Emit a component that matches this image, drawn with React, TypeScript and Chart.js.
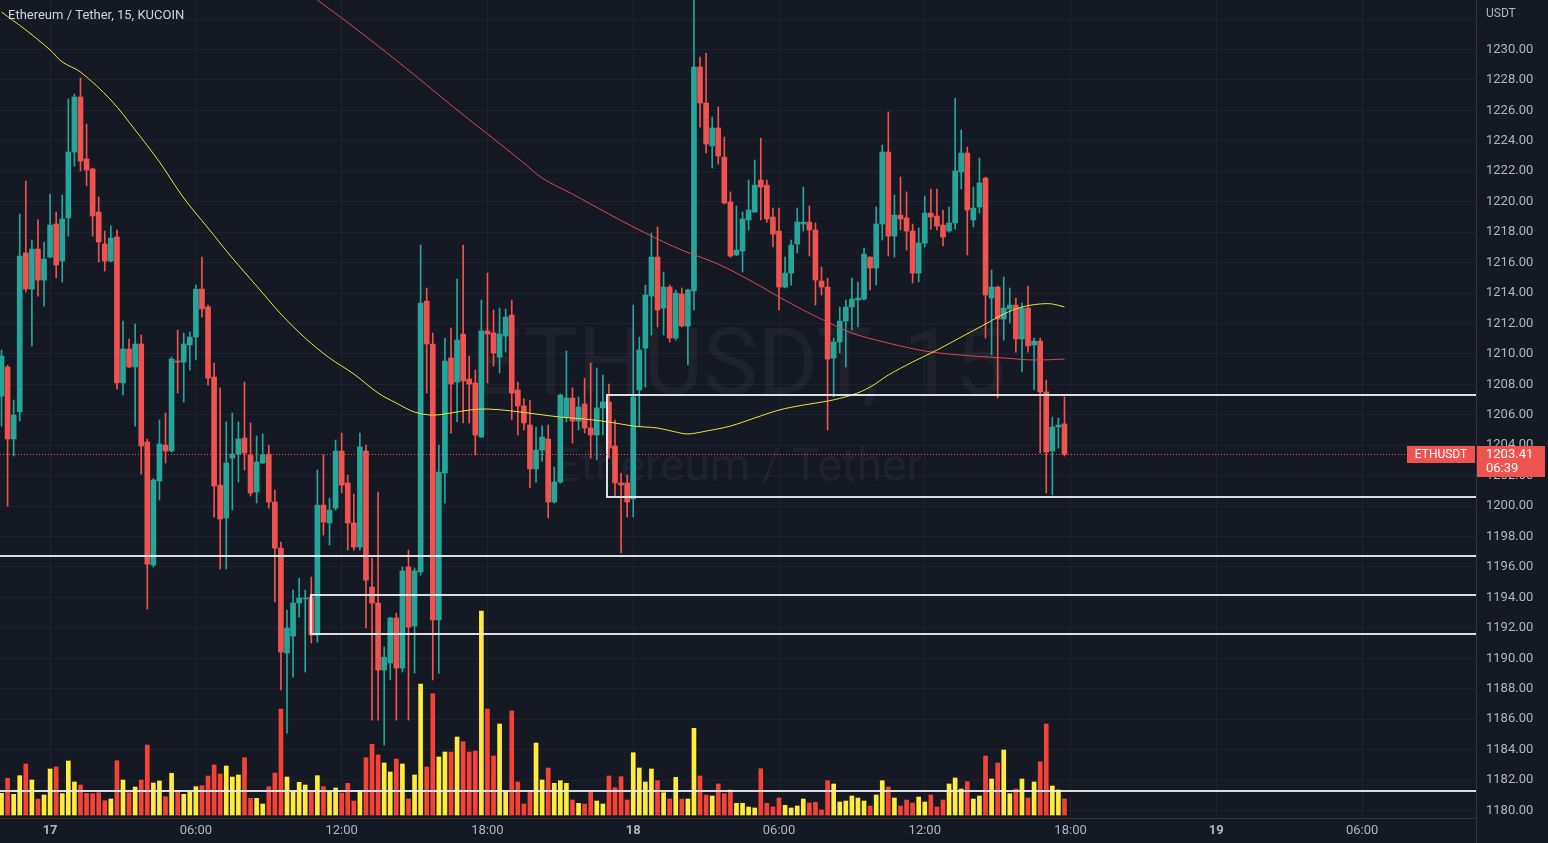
import React, { useEffect, useRef } from 'react';
import { Chart, registerables } from 'chart.js';

Chart.register(...registerables);

// ---- Data (15-minute candles, ETH/USDT, KuCoin) ----
const opens = [1207.23,1209.14,1204.41,1206.18,1216.63,1214.26,1216.89,1214.85,1216.36,1218.53,
1216.10,1218.93,1223.26,1226.88,1222.80,1222.15,1219.32,1217.22,1216.10,1217.68,
1208.09,1210.32,1209.14,1210.65,1204.21,1196.13,1201.65,1204.01,1203.62,1209.53,
1209.46,1210.58,1211.11,1214.26,1213.08,1208.48,1201.38,1199.22,1203.16,1203.42,
1204.47,1203.36,1200.93,1202.83,1203.42,1200.27,1197.24,1190.35,1191.46,1193.63,
1193.90,1194.03,1191.53,1200.07,1198.89,1199.87,1203.62,1201.52,1198.89,1197.31,
1203.62,1194.68,1193.63,1189.23,1189.69,1192.65,1189.36,1196.00,1192.12,1195.67,
1213.47,1210.65,1192.52,1202.17,1209.73,1208.15,1211.30,1208.35,1208.09,1204.54,
1211.50,1211.37,1209.79,1211.17,1212.55,1207.63,1206.58,1205.33,1202.44,1203.68,
1204.41,1200.27,1201.58,1205.85,1207.10,1205.59,1206.71,1205.13,1204.67,1206.45,
1206.84,1203.95,1201.52,1201.52,1200.47,1207.63,1210.38,1213.80,1216.36,1213.01,
1214.39,1211.04,1213.93,1211.83,1214.13,1228.85,1226.48,1223.66,1224.84,1222.93,
1219.98,1216.50,1216.76,1218.80,1219.32,1221.42,1221.09,1218.99,1218.07,1214.39,
1215.31,1217.22,1218.53,1218.66,1218.14,1214.79,1214.39,1209.73,1210.78,1212.16,
1213.08,1213.54,1213.60,1216.36,1215.64,1218.53,1223.26,1217.74,1219.12,1218.93,
1218.07,1215.31,1217.28,1219.25,1219.06,1218.47,1218.07,1218.60,1221.95,1223.20,
1218.80,1219.65,1221.55,1213.67,1214.39,1212.29,1212.95,1213.21,1210.98,1213.01,
1210.58,1210.84,1207.50,1203.62,1205.20,1205.40];

const highs = [1210.25,1209.27,1206.97,1219.19,1221.36,1217.48,1218.80,1217.35,1220.50,1219.32,
1220.44,1226.75,1227.07,1228.13,1225.10,1222.20,1220.31,1218.07,1218.40,1218.14,
1212.16,1210.98,1211.96,1211.24,1204.40,1201.80,1205.66,1206.12,1209.79,1211.57,
1211.37,1211.44,1214.52,1216.36,1213.21,1209.40,1207.76,1205.53,1206.12,1205.53,
1208.15,1205.46,1204.60,1204.74,1204.01,1201.06,1197.64,1193.17,1194.48,1195.27,
1194.48,1195.34,1202.37,1203.36,1200.53,1204.34,1204.80,1202.04,1200.79,1204.80,
1204.01,1196.59,1200.93,1190.74,1192.70,1192.97,1196.00,1197.11,1195.93,1217.15,
1214.33,1211.37,1204.01,1211.04,1211.70,1214.92,1217.15,1209.86,1208.94,1213.54,
1215.31,1212.88,1213.01,1212.95,1213.54,1208.15,1207.04,1206.97,1205.20,1205.27,
1205.33,1202.57,1207.36,1210.19,1207.76,1207.17,1208.41,1209.40,1209.07,1208.61,
1208.02,1205.66,1202.17,1202.04,1213.21,1211.11,1214.52,1217.94,1218.34,1215.38,
1214.52,1214.20,1214.33,1214.26,1233.60,1229.50,1229.77,1225.56,1226.22,1224.25,
1220.64,1219.72,1219.32,1221.42,1222.74,1224.18,1221.42,1219.58,1219.58,1216.36,
1217.48,1219.58,1220.96,1219.72,1218.60,1215.71,1214.98,1211.04,1213.08,1213.54,
1214.98,1214.72,1216.96,1216.40,1219.65,1223.72,1225.89,1220.44,1221.62,1220.64,
1218.53,1218.27,1220.37,1220.83,1220.83,1219.45,1219.65,1226.81,1224.71,1223.59,
1220.96,1222.87,1221.62,1215.51,1214.45,1215.05,1214.33,1213.67,1213.34,1214.46,
1211.04,1211.04,1208.28,1205.85,1205.79,1207.17];

const lows = [1205.26,1200.00,1203.29,1205.59,1214.07,1210.52,1213.80,1213.14,1216.30,1214.99,
1214.72,1217.74,1222.34,1222.02,1221.03,1217.74,1216.04,1215.44,1216.05,1207.69,
1207.30,1209.10,1205.26,1202.11,1193.24,1195.99,1200.40,1202.83,1203.55,1207.43,
1206.84,1208.94,1209.60,1212.42,1207.95,1199.28,1195.87,1195.87,1199.74,1201.58,
1202.37,1200.66,1200.20,1202.80,1199.87,1193.70,1187.92,1185.09,1188.77,1192.71,
1189.10,1191.00,1191.07,1198.10,1197.44,1199.74,1200.86,1197.11,1197.11,1197.11,
1191.99,1185.94,1185.94,1184.30,1188.58,1185.94,1189.10,1185.94,1189.03,1195.47,
1207.43,1188.58,1189.03,1200.20,1204.80,1205.53,1205.46,1205.46,1203.36,1204.50,
1208.09,1209.20,1208.74,1210.12,1205.66,1204.67,1205.00,1201.19,1201.58,1202.96,
1199.22,1200.20,1201.52,1205.53,1204.14,1205.00,1204.80,1203.16,1203.03,1204.67,
1203.16,1200.60,1196.92,1199.28,1199.28,1205.20,1207.82,1211.24,1211.77,1211.24,
1210.78,1210.91,1211.77,1209.27,1212.88,1224.90,1223.20,1222.21,1222.47,1219.85,
1216.36,1216.45,1215.38,1218.14,1219.30,1218.80,1218.66,1217.02,1212.88,1214.33,
1214.52,1216.63,1218.07,1216.43,1213.21,1213.87,1205.00,1207.17,1210.06,1209.14,
1211.57,1211.77,1213.55,1214.20,1214.52,1217.48,1216.43,1216.36,1218.14,1216.82,
1214.66,1214.72,1217.02,1218.20,1218.14,1217.09,1218.00,1218.20,1220.83,1216.50,
1218.34,1219.25,1211.04,1209.93,1207.10,1210.91,1212.03,1210.12,1208.81,1210.12,
1207.63,1203.49,1200.86,1200.73,1203.81,1203.29];

const closes = [1209.86,1204.41,1205.98,1216.43,1214.26,1216.89,1214.85,1216.23,1218.47,1215.84,
1218.86,1223.26,1226.88,1222.67,1222.08,1219.06,1217.35,1216.10,1217.61,1208.09,
1210.32,1209.14,1210.65,1203.95,1196.19,1201.71,1204.08,1203.62,1209.66,1209.46,
1210.65,1211.11,1214.26,1212.95,1208.41,1201.32,1199.15,1202.83,1203.42,1204.41,
1203.49,1200.86,1202.90,1203.36,1200.27,1197.24,1190.41,1191.99,1193.63,1193.96,
1193.96,1191.53,1200.07,1198.95,1199.74,1203.62,1201.38,1198.89,1197.31,1203.88,
1195.14,1193.63,1189.23,1190.08,1192.65,1189.36,1195.74,1192.05,1195.74,1213.34,
1210.65,1192.52,1202.24,1209.53,1208.02,1210.91,1208.22,1208.02,1204.67,1211.50,
1211.30,1210.06,1211.30,1212.42,1207.43,1206.58,1205.46,1202.44,1203.68,1204.54,
1200.27,1201.58,1207.30,1207.10,1205.59,1206.51,1205.13,1204.67,1206.45,1206.84,
1203.81,1201.52,1201.38,1200.27,1207.17,1210.25,1213.87,1216.36,1212.88,1214.39,
1211.04,1214.00,1211.83,1214.20,1228.85,1226.48,1223.79,1224.84,1223.00,1219.91,
1216.43,1216.82,1218.86,1219.45,1221.09,1220.96,1218.86,1217.87,1214.39,1215.31,
1217.15,1218.66,1218.66,1218.14,1214.85,1214.39,1209.66,1210.78,1212.16,1213.08,
1213.60,1213.67,1216.56,1215.64,1218.53,1223.26,1217.74,1219.12,1218.86,1218.07,
1215.31,1217.28,1219.25,1218.99,1218.40,1217.68,1218.60,1222.02,1223.20,1219.45,
1219.58,1221.23,1213.87,1214.39,1212.29,1213.01,1213.21,1210.98,1213.01,1210.52,
1210.84,1207.50,1203.55,1205.20,1205.33,1203.41];

const volumes = [217,367,207,393,510,350,160,200,460,480,
213,540,330,300,217,213,223,143,160,543,
350,223,280,350,700,320,340,183,417,247,
207,233,283,293,390,500,410,490,380,400,
573,167,167,110,283,420,1060,380,233,327,
300,233,393,283,233,270,220,317,140,247,
573,707,600,520,430,560,510,160,400,1310,
480,1213,580,630,630,780,733,630,640,2040,
1060,590,910,233,1040,330,110,247,720,350,
470,317,343,317,150,117,110,227,140,110,
390,273,383,150,623,470,330,460,343,223,
160,377,160,160,867,390,200,190,310,213,
250,117,117,80,70,463,117,80,170,97,
70,90,160,120,127,50,343,310,130,140,
190,170,140,90,200,343,280,170,90,150,
120,180,130,200,80,150,310,370,260,333,
160,190,590,360,520,650,213,260,360,170,
330,533,910,290,250,160];

// Moving averages (candle index, value)
const fastMaIndex = [0,4,8,10,13,18,22,26,30,34,38,42,46,50,54,58,62,65,68,71,74,77,80,84,88,92,96,100,104,108,111,113,116,120,124,128,132,136,140,143,146,150,154,158,162,165,168,171,173,175];
const fastMaValues = [1232.46,1231.28,1229.97,1229.18,1228.52,1226.68,1224.71,1222.61,1220.24,1218.27,1216.30,1214.46,1212.62,1211.04,1209.73,1208.68,1207.43,1206.77,1206.18,1205.98,1206.12,1206.31,1206.38,1206.25,1206.05,1205.85,1205.72,1205.53,1205.26,1205.13,1204.87,1204.74,1204.93,1205.26,1205.79,1206.31,1206.64,1206.90,1207.30,1207.82,1208.61,1209.47,1210.25,1211.11,1211.96,1212.62,1213.08,1213.28,1213.28,1213.08];
const slowMaIndex = [51,52,56,62,68,74,80,86,89,94,100,106,112,118,124,128,132,136,140,144,148,152,156,160,165,170,175];
const slowMaValues = [1233.58,1233.25,1232.07,1230.23,1228.32,1226.35,1224.45,1222.54,1221.55,1220.50,1219.19,1217.94,1216.82,1215.90,1214.66,1213.74,1212.88,1212.09,1211.37,1210.91,1210.52,1210.19,1209.99,1209.86,1209.73,1209.60,1209.66];

// Axis ticks
const xTickIndexes = [8, 32, 56, 80, 104, 128, 152, 176, 200, 224];
const xTickLabels = ['17', '06:00', '12:00', '18:00', '18', '06:00', '12:00', '18:00', '19', '06:00'];
const priceTicks = [1180,1182,1184,1186,1188,1190,1192,1194,1196,1198,1200,1202,1204,1206,1208,1210,1212,1214,1216,1218,1220,1222,1224,1226,1228,1230,1232];

// Drawn zones and levels (start index, top price, bottom price)
const zoneStarts = [99.7, 51.0];
const zoneTops = [1207.30, 1194.16];
const zoneBottoms = [1200.60, 1191.59];
const levelPrices = [1196.72, 1181.28];

const titleText = 'Ethereum / Tether, 15, KUCOIN';
const watermarkTitle = 'ETHUSDT, 15';
const watermarkSubtitle = 'Ethereum / Tether';
const symbolLabel = 'ETHUSDT';
const countdownLabel = '06:39';
const currencyLabel = 'USDT';

// ---- Styles ----
const BG = '#151924';
const GRID = '#1f2330';
const TEXT = '#b2b5be';
const UP = '#26a69a';
const DOWN = '#ef5350';
const VOL_UP = '#ffeb3b';
const VOL_DOWN = '#f44336';
const FONT = 'Roboto, "Noto Sans", sans-serif';

export default function App() {
  const ref = useRef<HTMLCanvasElement | null>(null);

  useEffect(() => {
    document.body.style.margin = '0';
    const canvas = ref.current;
    if (!canvas) return;
    const idx = opens.map((_, i) => i);
    const isUp = (i: number) => closes[i] >= opens[i];

    const bgPlugin = {
      id: 'bg',
      beforeDraw(chart: any) {
        const { ctx, width, height } = chart;
        ctx.save();
        ctx.fillStyle = BG;
        ctx.fillRect(0, 0, width, height);
        ctx.restore();
      },
    };

    const watermark = {
      id: 'watermark',
      beforeDatasetsDraw(chart: any) {
        const { ctx, chartArea: a } = chart;
        const cx = (a.left + a.right) / 2;
        ctx.save();
        ctx.fillStyle = 'rgba(255,255,255,0.045)';
        ctx.textAlign = 'center';
        ctx.textBaseline = 'alphabetic';
        ctx.font = `92px ${FONT}`;
        ctx.fillText(watermarkTitle, cx, 394);
        ctx.font = `46px ${FONT}`;
        ctx.fillText(watermarkSubtitle, cx, 481);
        ctx.restore();
      },
    };

    const overlays = {
      id: 'overlays',
      afterDatasetsDraw(chart: any) {
        const { ctx, chartArea: a } = chart;
        const xs = chart.scales.x;
        const ys = chart.scales.y;
        ctx.save();
        ctx.beginPath();
        ctx.rect(a.left, a.top, a.right - a.left, a.bottom - a.top);
        ctx.clip();
        ctx.strokeStyle = 'rgba(236,238,242,0.92)';
        ctx.lineWidth = 2;
        zoneStarts.forEach((s, i) => {
          const x0 = Math.round(xs.getPixelForValue(s));
          const y0 = Math.round(ys.getPixelForValue(zoneTops[i]));
          const y1 = Math.round(ys.getPixelForValue(zoneBottoms[i]));
          ctx.strokeRect(x0, y0, a.right - x0 + 4, y1 - y0);
        });
        levelPrices.forEach((p) => {
          const yy = Math.round(ys.getPixelForValue(p));
          ctx.beginPath();
          ctx.moveTo(a.left, yy);
          ctx.lineTo(a.right, yy);
          ctx.stroke();
        });
        // last price dotted line
        const last = closes[closes.length - 1];
        const yp = Math.round(ys.getPixelForValue(last)) + 0.5;
        ctx.strokeStyle = DOWN;
        ctx.lineWidth = 1;
        ctx.setLineDash([1, 2]);
        ctx.beginPath();
        ctx.moveTo(a.left, yp);
        ctx.lineTo(a.right, yp);
        ctx.stroke();
        ctx.restore();
      },
      afterDraw(chart: any) {
        const { ctx, chartArea: a, width } = chart;
        const ys = chart.scales.y;
        ctx.save();
        // borders
        ctx.strokeStyle = '#2f333e';
        ctx.lineWidth = 1;
        ctx.beginPath();
        ctx.moveTo(a.right + 0.5, 0);
        ctx.lineTo(a.right + 0.5, chart.height);
        ctx.moveTo(0, a.bottom + 0.5);
        ctx.lineTo(a.right, a.bottom + 0.5);
        ctx.stroke();
        // title
        ctx.fillStyle = '#d1d4dc';
        ctx.font = `13px ${FONT}`;
        ctx.textAlign = 'left';
        ctx.textBaseline = 'middle';
        ctx.fillText(titleText, 8, 16);
        // currency
        ctx.fillStyle = TEXT;
        ctx.font = `12px ${FONT}`;
        ctx.fillText(currencyLabel, a.right + 10, 14);
        // price label
        const last = closes[closes.length - 1];
        const yp = Math.round(ys.getPixelForValue(last));
        ctx.fillStyle = DOWN;
        ctx.fillRect(a.right - 69, yp - 8, 68, 17);
        ctx.fillRect(a.right + 1, yp - 8, width - a.right - 4, 31);
        ctx.fillStyle = '#ffffff';
        ctx.font = `12px ${FONT}`;
        ctx.textAlign = 'center';
        ctx.fillText(symbolLabel, a.right - 35, yp + 1);
        ctx.textAlign = 'left';
        ctx.font = `13px ${FONT}`;
        ctx.fillText(last.toFixed(2), a.right + 10, yp + 1);
        ctx.fillText(countdownLabel, a.right + 10, yp + 15);
        ctx.restore();
      },
    };

    const chart = new Chart(canvas, {
      type: 'bar',
      data: {
        datasets: [
          {
            type: 'line',
            label: 'MA fast',
            data: fastMaIndex.map((k, i) => ({ x: k, y: fastMaValues[i] })),
            borderColor: '#f2e13a',
            borderWidth: 1,
            pointRadius: 0,
            tension: 0.35,
            yAxisID: 'y',
          } as any,
          {
            type: 'line',
            label: 'MA slow',
            data: slowMaIndex.map((k, i) => ({ x: k, y: slowMaValues[i] })),
            borderColor: '#d9484a',
            borderWidth: 1,
            pointRadius: 0,
            tension: 0.35,
            yAxisID: 'y',
          } as any,
          {
            label: 'body',
            data: idx.map((i) => ({ x: i, y: [opens[i], closes[i]] })),
            backgroundColor: idx.map((i) => (isUp(i) ? UP : DOWN)),
            barThickness: 5,
            minBarLength: 1,
            grouped: false,
            yAxisID: 'y',
          } as any,
          {
            label: 'wick',
            data: idx.map((i) => ({ x: i, y: [lows[i], highs[i]] })),
            backgroundColor: idx.map((i) => (isUp(i) ? UP : DOWN)),
            barThickness: 1,
            grouped: false,
            yAxisID: 'y',
          } as any,
          {
            label: 'volume',
            data: idx.map((i) => ({ x: i, y: volumes[i] })),
            backgroundColor: idx.map((i) => (isUp(i) ? VOL_UP : VOL_DOWN)),
            barThickness: 4,
            grouped: false,
            yAxisID: 'yv',
          } as any,
        ],
      },
      options: {
        responsive: false,
        animation: false,
        events: [],
        layout: { padding: 0, autoPadding: false } as any,
        plugins: { legend: { display: false }, tooltip: { enabled: false } },
        scales: {
          x: {
            type: 'linear',
            min: -0.25,
            max: 242.75,
            offset: false,
            grid: { color: GRID, drawTicks: false, offset: false },
            border: { display: false },
            afterBuildTicks: (scale: any) => {
              scale.ticks = xTickIndexes.map((v) => ({ value: v }));
            },
            afterFit: (scale: any) => {
              scale.height = 25;
              scale.paddingLeft = 0;
              scale.paddingRight = 0;
            },
            ticks: {
              autoSkip: false,
              maxRotation: 0,
              padding: 5,
              color: TEXT,
              font: (c: any) => ({
                family: FONT,
                size: 13,
                weight: c.tick && /^\d+$/.test(String(c.tick.label)) ? 'bold' : 'normal',
              }),
              callback: (v: any) => {
                const i = xTickIndexes.indexOf(Number(v));
                return i >= 0 ? xTickLabels[i] : '';
              },
            },
          } as any,
          y: {
            type: 'linear',
            position: 'right',
            min: 1179.51,
            max: 1233.25,
            grid: { color: GRID, drawTicks: false },
            border: { display: false },
            afterBuildTicks: (scale: any) => {
              scale.ticks = priceTicks.map((v) => ({ value: v }));
            },
            afterFit: (scale: any) => {
              scale.width = 72;
              scale.paddingTop = 0;
              scale.paddingBottom = 0;
            },
            ticks: {
              padding: 10,
              color: TEXT,
              font: { family: FONT, size: 13 },
              callback: (v: any) => (Number(v) >= 1232 ? '' : Number(v).toFixed(2)),
            },
          } as any,
          yv: {
            type: 'linear',
            display: false,
            min: -30,
            max: 8150,
          } as any,
        },
      },
      plugins: [bgPlugin, watermark, overlays],
    } as any);

    return () => chart.destroy();
  }, []);

  return (
    <div style={{ position: 'fixed', left: 0, top: 0, width: 1548, height: 843, background: BG }}>
      <canvas ref={ref} width={1548} height={843} style={{ display: 'block' }} />
    </div>
  );
}
